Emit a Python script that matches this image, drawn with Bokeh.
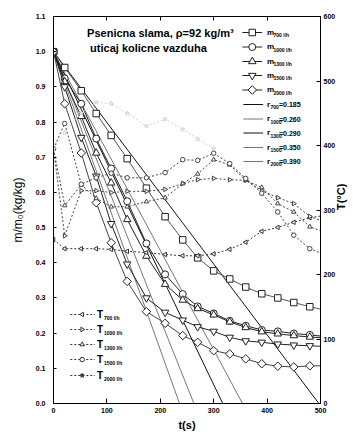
import numpy as np
from bokeh.plotting import figure
from bokeh.models import Range1d, LinearAxis, FixedTicker, PrintfTickFormatter, Label
from bokeh.embed import file_html
from bokeh.resources import INLINE

# ---------------- data ----------------
t_s = [0, 21, 52, 80, 108, 138, 174, 209, 242, 270, 300, 330, 360, 390, 420, 450, 480, 510]
m_700 = [1.0, 0.955, 0.889, 0.824, 0.762, 0.696, 0.612, 0.531, 0.465, 0.414, 0.377, 0.354, 0.331, 0.312, 0.300, 0.287, 0.275, 0.265]
m_1000 = [1.0, 0.924, 0.852, 0.753, 0.668, 0.575, 0.455, 0.367, 0.311, 0.276, 0.256, 0.235, 0.221, 0.209, 0.205, 0.199, 0.195, 0.190]
m_1300 = [1.0, 0.915, 0.816, 0.712, 0.627, 0.523, 0.419, 0.339, 0.294, 0.270, 0.252, 0.232, 0.216, 0.204, 0.198, 0.193, 0.189, 0.186]
m_1500 = [1.0, 0.900, 0.756, 0.646, 0.511, 0.396, 0.300, 0.259, 0.237, 0.218, 0.205, 0.188, 0.178, 0.174, 0.169, 0.166, 0.164, 0.162]
m_2000 = [1.0, 0.852, 0.712, 0.571, 0.457, 0.347, 0.261, 0.228, 0.193, 0.174, 0.150, 0.141, 0.127, 0.113, 0.106, 0.104, 0.107, 0.107]

T_700 = [254, 240, 240, 240, 239, 236, 234, 231, 229, 229, 232, 239, 250, 267, 273, 281, 288, 292]
T_1000 = [395, 260, 330, 330, 327, 329, 329, 332, 341, 347, 349, 347, 346, 330, 319, 310, 290, 281]
T_1300 = [395, 307, 339, 318, 305, 305, 313, 319, 341, 356, 378, 370, 346, 335, 310, 297, 274, 265]
T_1500 = [395, 434, 340, 350, 357, 350, 350, 358, 378, 377, 388, 372, 349, 326, 297, 261, 240, 230]
t_T2000 = [0, 21, 52, 80, 108, 138, 174, 209, 242, 270, 300]
T_2000 = [395, 420, 450, 467, 465, 450, 430, 441, 425, 410, 395]

r_labels = ["700", "1000", "1300", "1500", "2000"]
r_values = ["0.185", "0.260", "0.290", "0.350", "0.390"]
r_t_zero = [497, 354, 317, 263, 236]

flow_labels = ["700 l/h", "1000 l/h", "1300 l/h", "1500 l/h", "2000 l/h"]

t_ticks = [0, 100, 200, 300, 400, 500]
m_ticks = [0.0, 0.1, 0.2, 0.3, 0.4, 0.5, 0.6, 0.7, 0.8, 0.9, 1.0, 1.1]
T_ticks = [0, 100, 200, 300, 400, 500, 600]

# ---------------- figure ----------------
FONT = "Liberation Sans"
FL, FR, FT, FB = 53.0, 323.0, 16.0, 403.0   # frame in page pixels


def X(px):
    return (px - FL) / (FR - FL) * 500.0


def Y(py):
    return (FB - py) / (FB - FT) * 1.1


p = figure(width=356, height=433, x_range=Range1d(0, 500), y_range=Range1d(0, 1.1),
           output_backend="svg", toolbar_location=None,
           min_border_left=53, min_border_right=33, min_border_top=16, min_border_bottom=30)
p.extra_y_ranges = {"T": Range1d(0, 600)}
p.grid.visible = False
p.outline_line_color = "black"
p.outline_line_width = 1
p.background_fill_color = "white"
p.border_fill_color = "white"


def style_axis(ax, tick_in):
    ax.major_tick_in = tick_in
    ax.major_tick_out = 0
    ax.minor_tick_line_color = None
    ax.axis_line_color = "black"
    ax.major_tick_line_color = "black"
    ax.major_label_text_font = FONT
    ax.major_label_text_font_size = "7px"
    ax.major_label_text_font_style = "bold"
    ax.major_label_text_color = "black"
    ax.axis_label_text_font = FONT
    ax.axis_label_text_color = "black"


xa = p.below[0]
xa.ticker = FixedTicker(ticks=t_ticks)
style_axis(xa, 5)
xa.major_label_standoff = 4
xa.axis_label = "t(s)"
xa.axis_label_text_font_size = "11px"
xa.axis_label_text_font_style = "bold"
xa.axis_label_standoff = 3

ya = p.left[0]
ya.ticker = FixedTicker(ticks=m_ticks)
ya.formatter = PrintfTickFormatter(format="%.1f")
style_axis(ya, 3)
ya.major_label_standoff = 8
ya.axis_label = "m/m₀(kg/kg)"
ya.axis_label_text_font_size = "12px"
ya.axis_label_text_font_style = "normal"
ya.axis_label_standoff = 8

ra = LinearAxis(y_range_name="T", ticker=FixedTicker(ticks=T_ticks))
style_axis(ra, 4)
ra.major_label_standoff = 3
ra.axis_label = "T(°C)"
ra.axis_label_text_font_size = "11px"
ra.axis_label_text_font_style = "bold"
ra.axis_label_standoff = 3
ra.axis_label_orientation = np.pi / 2
p.add_layout(ra, "right")

ta = LinearAxis(ticker=FixedTicker(ticks=t_ticks))
style_axis(ta, 4)
ta.major_label_text_font_size = "1px"
ta.major_label_text_color = None
ta.major_label_standoff = 0
p.add_layout(ta, "above")

# ---------------- straight fit lines ----------------
line_cols = ["#111111", "#777777", "#111111", "#777777", "#777777"]
for tz, c in zip(r_t_zero, line_cols):
    p.line([0, tz], [1.0, 0.0], line_color=c, line_width=1)

# ---------------- mass curves ----------------
m_series = [m_700, m_1000, m_1300, m_1500, m_2000]
m_markers = ["square", "circle", "triangle", "inverted_triangle", "square"]
m_angles = [0, 0, 0, 0, np.pi / 4]
m_sizes = [6.5, 7, 7.5, 7.5, 6]
m_line_cols = ["#555555", "#222222", "#222222", "#222222", "#444444"]
for ys, mk, an, sz, lc in zip(m_series, m_markers, m_angles, m_sizes, m_line_cols):
    p.line(t_s, ys, line_color=lc, line_width=1)
    p.scatter(t_s, ys, marker=mk, angle=an, size=sz, fill_color="white",
              line_color="#222222", line_width=1)

# ---------------- temperature curves ----------------
T_series = [(t_s, T_700), (t_s, T_1000), (t_s, T_1300), (t_s, T_1500), (t_T2000, T_2000)]
T_markers = ["triangle", "triangle", "triangle", "circle", "star"]
T_angles = [np.pi / 2, -np.pi / 2, 0, 0, 0]
T_cols = ["#333333", "#444444", "#444444", "#444444", "#d2d2d2"]
for (tt, TT), mk, an, c in zip(T_series, T_markers, T_angles, T_cols):
    p.line(tt, TT, y_range_name="T", line_color=c, line_width=1, line_dash="2 2")
    p.scatter(tt, TT, y_range_name="T", marker=mk, angle=an, size=4.5,
              fill_color="white", line_color=c, line_width=1)


# ---------------- texts ----------------
def lab(x, y, text, size, style="bold", align="left", angle=0.0, color="black"):
    p.add_layout(Label(x=X(x), y=Y(y), text=text, text_font=FONT,
                       text_font_size=f"{size}px", text_font_style=style,
                       text_align=align, text_baseline="middle", angle=angle,
                       text_color=color))


lab(87, 32.5, "Psenicna slama, ρ=92 kg/m³", 11)
lab(90, 47, "uticaj kolicne vazduha", 11)

# top-right legend (mass)
m_leg_y = [32, 46.5, 61, 75, 89.5]
for i, yy in enumerate(m_leg_y):
    p.line([X(244), X(264)], [Y(yy), Y(yy)], line_color="#222222", line_width=1)
    p.scatter([X(254)], [Y(yy)], marker=m_markers[i], angle=m_angles[i], size=m_sizes[i],
              fill_color="white", line_color="#222222", line_width=1)
    lab(269, yy - 0.5, "m", 8)
    lab(275.5, yy + 2.5, flow_labels[i], 5)

# top-right legend (fit lines)
r_leg_y = [104, 118.5, 132.5, 147, 161]
for i, yy in enumerate(r_leg_y):
    p.line([X(245), X(265)], [Y(yy), Y(yy)], line_color=line_cols[i], line_width=1)
    lab(269, yy - 0.5, "r", 8)
    lab(272.5, yy + 2.5, r_labels[i], 5)
    lab(281, yy, "=" + r_values[i], 7)

# bottom-left legend (temperatures)
T_leg_y = [314, 329, 344, 359, 375]
for i, yy in enumerate(T_leg_y):
    c = "#333333"
    p.line([X(70), X(95)], [Y(yy), Y(yy)], line_color=c, line_width=1, line_dash="2 2")
    p.scatter([X(82)], [Y(yy)], marker=T_markers[i], angle=T_angles[i], size=4.5,
              fill_color="#333333" if i == 4 else "white", line_color=c, line_width=1)
    lab(97, yy - 0.5, "T", 10)
    lab(104, yy + 3, flow_labels[i], 5)

open("out.html", "w").write(file_html(p, INLINE))
